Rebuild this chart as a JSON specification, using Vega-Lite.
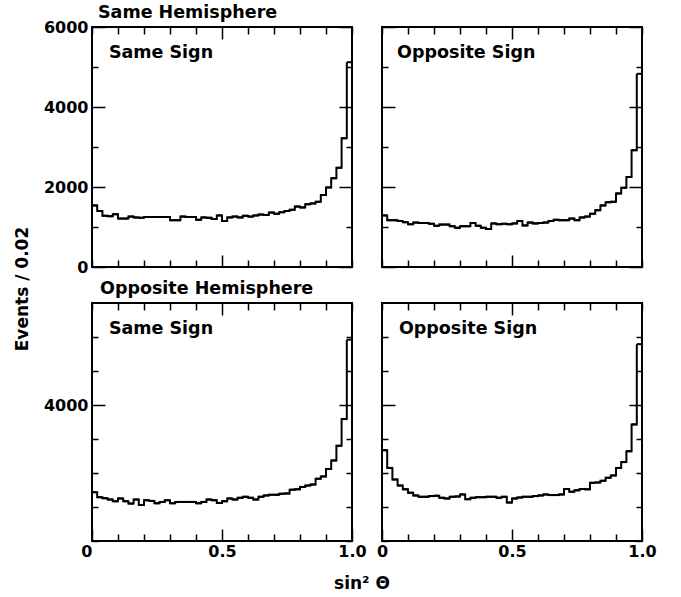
{
  "$schema": "https://vega.github.io/schema/vega-lite/v6.json",
  "background": "white",
  "padding": {"left": 12, "top": 2, "right": 10, "bottom": 2},
  "bounds": "flush",
  "columns": 2,
  "spacing": {"row": 36, "column": 30},
  "datasets": {
    "hist": [
      {"hemi":"Same","sign":"Same","lo":0,"hi":0.02,"n":1540},
      {"hemi":"Same","sign":"Same","lo":0.02,"hi":0.04,"n":1400},
      {"hemi":"Same","sign":"Same","lo":0.04,"hi":0.06,"n":1280},
      {"hemi":"Same","sign":"Same","lo":0.06,"hi":0.08,"n":1270},
      {"hemi":"Same","sign":"Same","lo":0.08,"hi":0.1,"n":1320},
      {"hemi":"Same","sign":"Same","lo":0.1,"hi":0.12,"n":1210},
      {"hemi":"Same","sign":"Same","lo":0.12,"hi":0.14,"n":1210},
      {"hemi":"Same","sign":"Same","lo":0.14,"hi":0.16,"n":1260},
      {"hemi":"Same","sign":"Same","lo":0.16,"hi":0.18,"n":1240},
      {"hemi":"Same","sign":"Same","lo":0.18,"hi":0.2,"n":1230},
      {"hemi":"Same","sign":"Same","lo":0.2,"hi":0.22,"n":1250},
      {"hemi":"Same","sign":"Same","lo":0.22,"hi":0.24,"n":1250},
      {"hemi":"Same","sign":"Same","lo":0.24,"hi":0.26,"n":1250},
      {"hemi":"Same","sign":"Same","lo":0.26,"hi":0.28,"n":1250},
      {"hemi":"Same","sign":"Same","lo":0.28,"hi":0.3,"n":1250},
      {"hemi":"Same","sign":"Same","lo":0.3,"hi":0.32,"n":1170},
      {"hemi":"Same","sign":"Same","lo":0.32,"hi":0.34,"n":1170},
      {"hemi":"Same","sign":"Same","lo":0.34,"hi":0.36,"n":1260},
      {"hemi":"Same","sign":"Same","lo":0.36,"hi":0.38,"n":1250},
      {"hemi":"Same","sign":"Same","lo":0.38,"hi":0.4,"n":1250},
      {"hemi":"Same","sign":"Same","lo":0.4,"hi":0.42,"n":1180},
      {"hemi":"Same","sign":"Same","lo":0.42,"hi":0.44,"n":1240},
      {"hemi":"Same","sign":"Same","lo":0.44,"hi":0.46,"n":1230},
      {"hemi":"Same","sign":"Same","lo":0.46,"hi":0.48,"n":1200},
      {"hemi":"Same","sign":"Same","lo":0.48,"hi":0.5,"n":1290},
      {"hemi":"Same","sign":"Same","lo":0.5,"hi":0.52,"n":1150},
      {"hemi":"Same","sign":"Same","lo":0.52,"hi":0.54,"n":1240},
      {"hemi":"Same","sign":"Same","lo":0.54,"hi":0.56,"n":1260},
      {"hemi":"Same","sign":"Same","lo":0.56,"hi":0.58,"n":1240},
      {"hemi":"Same","sign":"Same","lo":0.58,"hi":0.6,"n":1280},
      {"hemi":"Same","sign":"Same","lo":0.6,"hi":0.62,"n":1260},
      {"hemi":"Same","sign":"Same","lo":0.62,"hi":0.64,"n":1290},
      {"hemi":"Same","sign":"Same","lo":0.64,"hi":0.66,"n":1310},
      {"hemi":"Same","sign":"Same","lo":0.66,"hi":0.68,"n":1300},
      {"hemi":"Same","sign":"Same","lo":0.68,"hi":0.7,"n":1360},
      {"hemi":"Same","sign":"Same","lo":0.7,"hi":0.72,"n":1330},
      {"hemi":"Same","sign":"Same","lo":0.72,"hi":0.74,"n":1370},
      {"hemi":"Same","sign":"Same","lo":0.74,"hi":0.76,"n":1400},
      {"hemi":"Same","sign":"Same","lo":0.76,"hi":0.78,"n":1430},
      {"hemi":"Same","sign":"Same","lo":0.78,"hi":0.8,"n":1510},
      {"hemi":"Same","sign":"Same","lo":0.8,"hi":0.82,"n":1490},
      {"hemi":"Same","sign":"Same","lo":0.82,"hi":0.84,"n":1570},
      {"hemi":"Same","sign":"Same","lo":0.84,"hi":0.86,"n":1590},
      {"hemi":"Same","sign":"Same","lo":0.86,"hi":0.88,"n":1630},
      {"hemi":"Same","sign":"Same","lo":0.88,"hi":0.9,"n":1800},
      {"hemi":"Same","sign":"Same","lo":0.9,"hi":0.92,"n":1990},
      {"hemi":"Same","sign":"Same","lo":0.92,"hi":0.94,"n":2220},
      {"hemi":"Same","sign":"Same","lo":0.94,"hi":0.96,"n":2480},
      {"hemi":"Same","sign":"Same","lo":0.96,"hi":0.98,"n":3220},
      {"hemi":"Same","sign":"Same","lo":0.98,"hi":1,"n":5120},

      {"hemi":"Same","sign":"Opposite","lo":0,"hi":0.02,"n":1290},
      {"hemi":"Same","sign":"Opposite","lo":0.02,"hi":0.04,"n":1170},
      {"hemi":"Same","sign":"Opposite","lo":0.04,"hi":0.06,"n":1170},
      {"hemi":"Same","sign":"Opposite","lo":0.06,"hi":0.08,"n":1150},
      {"hemi":"Same","sign":"Opposite","lo":0.08,"hi":0.1,"n":1120},
      {"hemi":"Same","sign":"Opposite","lo":0.1,"hi":0.12,"n":1070},
      {"hemi":"Same","sign":"Opposite","lo":0.12,"hi":0.14,"n":1110},
      {"hemi":"Same","sign":"Opposite","lo":0.14,"hi":0.16,"n":1100},
      {"hemi":"Same","sign":"Opposite","lo":0.16,"hi":0.18,"n":1100},
      {"hemi":"Same","sign":"Opposite","lo":0.18,"hi":0.2,"n":1080},
      {"hemi":"Same","sign":"Opposite","lo":0.2,"hi":0.22,"n":1030},
      {"hemi":"Same","sign":"Opposite","lo":0.22,"hi":0.24,"n":1060},
      {"hemi":"Same","sign":"Opposite","lo":0.24,"hi":0.26,"n":1060},
      {"hemi":"Same","sign":"Opposite","lo":0.26,"hi":0.28,"n":1020},
      {"hemi":"Same","sign":"Opposite","lo":0.28,"hi":0.3,"n":980},
      {"hemi":"Same","sign":"Opposite","lo":0.3,"hi":0.32,"n":1020},
      {"hemi":"Same","sign":"Opposite","lo":0.32,"hi":0.34,"n":1020},
      {"hemi":"Same","sign":"Opposite","lo":0.34,"hi":0.36,"n":1100},
      {"hemi":"Same","sign":"Opposite","lo":0.36,"hi":0.38,"n":1030},
      {"hemi":"Same","sign":"Opposite","lo":0.38,"hi":0.4,"n":980},
      {"hemi":"Same","sign":"Opposite","lo":0.4,"hi":0.42,"n":950},
      {"hemi":"Same","sign":"Opposite","lo":0.42,"hi":0.44,"n":1090},
      {"hemi":"Same","sign":"Opposite","lo":0.44,"hi":0.46,"n":1070},
      {"hemi":"Same","sign":"Opposite","lo":0.46,"hi":0.48,"n":1080},
      {"hemi":"Same","sign":"Opposite","lo":0.48,"hi":0.5,"n":1070},
      {"hemi":"Same","sign":"Opposite","lo":0.5,"hi":0.52,"n":1090},
      {"hemi":"Same","sign":"Opposite","lo":0.52,"hi":0.54,"n":1150},
      {"hemi":"Same","sign":"Opposite","lo":0.54,"hi":0.56,"n":1040},
      {"hemi":"Same","sign":"Opposite","lo":0.56,"hi":0.58,"n":1110},
      {"hemi":"Same","sign":"Opposite","lo":0.58,"hi":0.6,"n":1090},
      {"hemi":"Same","sign":"Opposite","lo":0.6,"hi":0.62,"n":1100},
      {"hemi":"Same","sign":"Opposite","lo":0.62,"hi":0.64,"n":1110},
      {"hemi":"Same","sign":"Opposite","lo":0.64,"hi":0.66,"n":1150},
      {"hemi":"Same","sign":"Opposite","lo":0.66,"hi":0.68,"n":1180},
      {"hemi":"Same","sign":"Opposite","lo":0.68,"hi":0.7,"n":1170},
      {"hemi":"Same","sign":"Opposite","lo":0.7,"hi":0.72,"n":1170},
      {"hemi":"Same","sign":"Opposite","lo":0.72,"hi":0.74,"n":1210},
      {"hemi":"Same","sign":"Opposite","lo":0.74,"hi":0.76,"n":1170},
      {"hemi":"Same","sign":"Opposite","lo":0.76,"hi":0.78,"n":1240},
      {"hemi":"Same","sign":"Opposite","lo":0.78,"hi":0.8,"n":1260},
      {"hemi":"Same","sign":"Opposite","lo":0.8,"hi":0.82,"n":1330},
      {"hemi":"Same","sign":"Opposite","lo":0.82,"hi":0.84,"n":1420},
      {"hemi":"Same","sign":"Opposite","lo":0.84,"hi":0.86,"n":1540},
      {"hemi":"Same","sign":"Opposite","lo":0.86,"hi":0.88,"n":1620},
      {"hemi":"Same","sign":"Opposite","lo":0.88,"hi":0.9,"n":1630},
      {"hemi":"Same","sign":"Opposite","lo":0.9,"hi":0.92,"n":1840},
      {"hemi":"Same","sign":"Opposite","lo":0.92,"hi":0.94,"n":1980},
      {"hemi":"Same","sign":"Opposite","lo":0.94,"hi":0.96,"n":2250},
      {"hemi":"Same","sign":"Opposite","lo":0.96,"hi":0.98,"n":2920},
      {"hemi":"Same","sign":"Opposite","lo":0.98,"hi":1,"n":4830},

      {"hemi":"Opposite","sign":"Same","lo":0,"hi":0.02,"n":1435},
      {"hemi":"Opposite","sign":"Same","lo":0.02,"hi":0.04,"n":1290},
      {"hemi":"Opposite","sign":"Same","lo":0.04,"hi":0.06,"n":1260},
      {"hemi":"Opposite","sign":"Same","lo":0.06,"hi":0.08,"n":1220},
      {"hemi":"Opposite","sign":"Same","lo":0.08,"hi":0.1,"n":1170},
      {"hemi":"Opposite","sign":"Same","lo":0.1,"hi":0.12,"n":1250},
      {"hemi":"Opposite","sign":"Same","lo":0.12,"hi":0.14,"n":1170},
      {"hemi":"Opposite","sign":"Same","lo":0.14,"hi":0.16,"n":1100},
      {"hemi":"Opposite","sign":"Same","lo":0.16,"hi":0.18,"n":1220},
      {"hemi":"Opposite","sign":"Same","lo":0.18,"hi":0.2,"n":1060},
      {"hemi":"Opposite","sign":"Same","lo":0.2,"hi":0.22,"n":1200},
      {"hemi":"Opposite","sign":"Same","lo":0.22,"hi":0.24,"n":1180},
      {"hemi":"Opposite","sign":"Same","lo":0.24,"hi":0.26,"n":1110},
      {"hemi":"Opposite","sign":"Same","lo":0.26,"hi":0.28,"n":1150},
      {"hemi":"Opposite","sign":"Same","lo":0.28,"hi":0.3,"n":1200},
      {"hemi":"Opposite","sign":"Same","lo":0.3,"hi":0.32,"n":1110},
      {"hemi":"Opposite","sign":"Same","lo":0.32,"hi":0.34,"n":1150},
      {"hemi":"Opposite","sign":"Same","lo":0.34,"hi":0.36,"n":1150},
      {"hemi":"Opposite","sign":"Same","lo":0.36,"hi":0.38,"n":1150},
      {"hemi":"Opposite","sign":"Same","lo":0.38,"hi":0.4,"n":1150},
      {"hemi":"Opposite","sign":"Same","lo":0.4,"hi":0.42,"n":1110},
      {"hemi":"Opposite","sign":"Same","lo":0.42,"hi":0.44,"n":1150},
      {"hemi":"Opposite","sign":"Same","lo":0.44,"hi":0.46,"n":1220},
      {"hemi":"Opposite","sign":"Same","lo":0.46,"hi":0.48,"n":1200},
      {"hemi":"Opposite","sign":"Same","lo":0.48,"hi":0.5,"n":1120},
      {"hemi":"Opposite","sign":"Same","lo":0.5,"hi":0.52,"n":1170},
      {"hemi":"Opposite","sign":"Same","lo":0.52,"hi":0.54,"n":1250},
      {"hemi":"Opposite","sign":"Same","lo":0.54,"hi":0.56,"n":1220},
      {"hemi":"Opposite","sign":"Same","lo":0.56,"hi":0.58,"n":1270},
      {"hemi":"Opposite","sign":"Same","lo":0.58,"hi":0.6,"n":1300},
      {"hemi":"Opposite","sign":"Same","lo":0.6,"hi":0.62,"n":1270},
      {"hemi":"Opposite","sign":"Same","lo":0.62,"hi":0.64,"n":1220},
      {"hemi":"Opposite","sign":"Same","lo":0.64,"hi":0.66,"n":1300},
      {"hemi":"Opposite","sign":"Same","lo":0.66,"hi":0.68,"n":1340},
      {"hemi":"Opposite","sign":"Same","lo":0.68,"hi":0.7,"n":1360},
      {"hemi":"Opposite","sign":"Same","lo":0.7,"hi":0.72,"n":1360},
      {"hemi":"Opposite","sign":"Same","lo":0.72,"hi":0.74,"n":1390},
      {"hemi":"Opposite","sign":"Same","lo":0.74,"hi":0.76,"n":1400},
      {"hemi":"Opposite","sign":"Same","lo":0.76,"hi":0.78,"n":1510},
      {"hemi":"Opposite","sign":"Same","lo":0.78,"hi":0.8,"n":1520},
      {"hemi":"Opposite","sign":"Same","lo":0.8,"hi":0.82,"n":1590},
      {"hemi":"Opposite","sign":"Same","lo":0.82,"hi":0.84,"n":1630},
      {"hemi":"Opposite","sign":"Same","lo":0.84,"hi":0.86,"n":1660},
      {"hemi":"Opposite","sign":"Same","lo":0.86,"hi":0.88,"n":1830},
      {"hemi":"Opposite","sign":"Same","lo":0.88,"hi":0.9,"n":1900},
      {"hemi":"Opposite","sign":"Same","lo":0.9,"hi":0.92,"n":2120},
      {"hemi":"Opposite","sign":"Same","lo":0.92,"hi":0.94,"n":2370},
      {"hemi":"Opposite","sign":"Same","lo":0.94,"hi":0.96,"n":2800},
      {"hemi":"Opposite","sign":"Same","lo":0.96,"hi":0.98,"n":3585},
      {"hemi":"Opposite","sign":"Same","lo":0.98,"hi":1,"n":5920},

      {"hemi":"Opposite","sign":"Opposite","lo":0,"hi":0.02,"n":2670},
      {"hemi":"Opposite","sign":"Opposite","lo":0.02,"hi":0.04,"n":2150},
      {"hemi":"Opposite","sign":"Opposite","lo":0.04,"hi":0.06,"n":1810},
      {"hemi":"Opposite","sign":"Opposite","lo":0.06,"hi":0.08,"n":1630},
      {"hemi":"Opposite","sign":"Opposite","lo":0.08,"hi":0.1,"n":1520},
      {"hemi":"Opposite","sign":"Opposite","lo":0.1,"hi":0.12,"n":1420},
      {"hemi":"Opposite","sign":"Opposite","lo":0.12,"hi":0.14,"n":1340},
      {"hemi":"Opposite","sign":"Opposite","lo":0.14,"hi":0.16,"n":1300},
      {"hemi":"Opposite","sign":"Opposite","lo":0.16,"hi":0.18,"n":1300},
      {"hemi":"Opposite","sign":"Opposite","lo":0.18,"hi":0.2,"n":1320},
      {"hemi":"Opposite","sign":"Opposite","lo":0.2,"hi":0.22,"n":1330},
      {"hemi":"Opposite","sign":"Opposite","lo":0.22,"hi":0.24,"n":1270},
      {"hemi":"Opposite","sign":"Opposite","lo":0.24,"hi":0.26,"n":1250},
      {"hemi":"Opposite","sign":"Opposite","lo":0.26,"hi":0.28,"n":1300},
      {"hemi":"Opposite","sign":"Opposite","lo":0.28,"hi":0.3,"n":1310},
      {"hemi":"Opposite","sign":"Opposite","lo":0.3,"hi":0.32,"n":1370},
      {"hemi":"Opposite","sign":"Opposite","lo":0.32,"hi":0.34,"n":1230},
      {"hemi":"Opposite","sign":"Opposite","lo":0.34,"hi":0.36,"n":1270},
      {"hemi":"Opposite","sign":"Opposite","lo":0.36,"hi":0.38,"n":1290},
      {"hemi":"Opposite","sign":"Opposite","lo":0.38,"hi":0.4,"n":1290},
      {"hemi":"Opposite","sign":"Opposite","lo":0.4,"hi":0.42,"n":1300},
      {"hemi":"Opposite","sign":"Opposite","lo":0.42,"hi":0.44,"n":1300},
      {"hemi":"Opposite","sign":"Opposite","lo":0.44,"hi":0.46,"n":1270},
      {"hemi":"Opposite","sign":"Opposite","lo":0.46,"hi":0.48,"n":1300},
      {"hemi":"Opposite","sign":"Opposite","lo":0.48,"hi":0.5,"n":1130},
      {"hemi":"Opposite","sign":"Opposite","lo":0.5,"hi":0.52,"n":1250},
      {"hemi":"Opposite","sign":"Opposite","lo":0.52,"hi":0.54,"n":1280},
      {"hemi":"Opposite","sign":"Opposite","lo":0.54,"hi":0.56,"n":1300},
      {"hemi":"Opposite","sign":"Opposite","lo":0.56,"hi":0.58,"n":1300},
      {"hemi":"Opposite","sign":"Opposite","lo":0.58,"hi":0.6,"n":1320},
      {"hemi":"Opposite","sign":"Opposite","lo":0.6,"hi":0.62,"n":1340},
      {"hemi":"Opposite","sign":"Opposite","lo":0.62,"hi":0.64,"n":1370},
      {"hemi":"Opposite","sign":"Opposite","lo":0.64,"hi":0.66,"n":1350},
      {"hemi":"Opposite","sign":"Opposite","lo":0.66,"hi":0.68,"n":1350},
      {"hemi":"Opposite","sign":"Opposite","lo":0.68,"hi":0.7,"n":1370},
      {"hemi":"Opposite","sign":"Opposite","lo":0.7,"hi":0.72,"n":1530},
      {"hemi":"Opposite","sign":"Opposite","lo":0.72,"hi":0.74,"n":1450},
      {"hemi":"Opposite","sign":"Opposite","lo":0.74,"hi":0.76,"n":1490},
      {"hemi":"Opposite","sign":"Opposite","lo":0.76,"hi":0.78,"n":1530},
      {"hemi":"Opposite","sign":"Opposite","lo":0.78,"hi":0.8,"n":1520},
      {"hemi":"Opposite","sign":"Opposite","lo":0.8,"hi":0.82,"n":1710},
      {"hemi":"Opposite","sign":"Opposite","lo":0.82,"hi":0.84,"n":1720},
      {"hemi":"Opposite","sign":"Opposite","lo":0.84,"hi":0.86,"n":1770},
      {"hemi":"Opposite","sign":"Opposite","lo":0.86,"hi":0.88,"n":1860},
      {"hemi":"Opposite","sign":"Opposite","lo":0.88,"hi":0.9,"n":1930},
      {"hemi":"Opposite","sign":"Opposite","lo":0.9,"hi":0.92,"n":2150},
      {"hemi":"Opposite","sign":"Opposite","lo":0.92,"hi":0.94,"n":2320},
      {"hemi":"Opposite","sign":"Opposite","lo":0.94,"hi":0.96,"n":2640},
      {"hemi":"Opposite","sign":"Opposite","lo":0.96,"hi":0.98,"n":3430},
      {"hemi":"Opposite","sign":"Opposite","lo":0.98,"hi":1,"n":5790}
    ]
  },
  "concat": [
    {
      "width": 260,
      "height": 240,
      "title": {"text": "Same Hemisphere", "dx": 6, "offset": -2},
      "data": {"name": "hist"},
      "layer": [
        {
          "transform": [{"filter": "datum.hemi === 'Same' && datum.sign === 'Same'"}],
          "mark": {"type": "line", "interpolate": "step-after", "color": "black", "strokeWidth": 2},
          "encoding": {
            "x": {"field": "lo", "type": "quantitative", "scale": {"domain": [0, 1], "nice": false},
              "axis": {"orient": "bottom", "values": [0, 0.1, 0.2, 0.3, 0.4, 0.5, 0.6, 0.7, 0.8, 0.9, 1], "labels": false, "title": null,
                "tickSize": {"condition": {"test": "datum.value === 0.5", "value": -12}, "value": -7}}},
            "y": {"field": "n", "type": "quantitative", "scale": {"domain": [0, 6000], "nice": false},
              "axis": {"orient": "left", "values": [0, 1000, 2000, 3000, 4000, 5000, 6000], "format": "d",
                "labelExpr": "datum.value % 2000 === 0 ? datum.label : ''",
                "tickSize": {"condition": {"test": "datum.value % 2000 === 0", "value": -13}, "value": -6},
                "labelPadding": 17,
                "title": "Events / 0.02", "titleAngle": 270, "titleAlign": "center", "titleBaseline": "alphabetic",
                "titleX": -64.5, "titleY": 261.5}}
          }
        },
        {
          "transform": [{"filter": "datum.hemi === 'Same' && datum.sign === 'Same'"}],
          "mark": {"type": "rule", "color": "black", "strokeWidth": 2},
          "encoding": {
            "x": {"field": "lo", "type": "quantitative",
              "axis": {"orient": "top", "values": [0, 0.1, 0.2, 0.3, 0.4, 0.5, 0.6, 0.7, 0.8, 0.9, 1], "labels": false, "title": null,
                "tickSize": {"condition": {"test": "datum.value === 0.5", "value": -12}, "value": -7}}},
            "x2": {"field": "hi"},
            "y": {"field": "n", "type": "quantitative",
              "axis": {"orient": "right", "values": [0, 1000, 2000, 3000, 4000, 5000, 6000], "labels": false, "title": null,
                "tickSize": {"condition": {"test": "datum.value % 2000 === 0", "value": -13}, "value": -6}}}
          }
        },
        {
          "data": {"values": [{"label": "Same Sign"}]},
          "mark": {"type": "text", "align": "left", "baseline": "alphabetic", "font": "DejaVu Sans", "fontSize": 17.5, "fontWeight": "bold", "color": "black"},
          "encoding": {
            "x": {"datum": 0.065, "type": "quantitative", "axis": null},
            "y": {"datum": 5225, "type": "quantitative", "axis": null},
            "text": {"field": "label"}
          }
        }
      ],
      "resolve": {"axis": {"x": "independent", "y": "independent"}}
    },
    {
      "width": 260,
      "height": 240,
      "data": {"name": "hist"},
      "layer": [
        {
          "transform": [{"filter": "datum.hemi === 'Same' && datum.sign === 'Opposite'"}],
          "mark": {"type": "line", "interpolate": "step-after", "color": "black", "strokeWidth": 2},
          "encoding": {
            "x": {"field": "lo", "type": "quantitative", "scale": {"domain": [0, 1], "nice": false},
              "axis": {"orient": "bottom", "values": [0, 0.1, 0.2, 0.3, 0.4, 0.5, 0.6, 0.7, 0.8, 0.9, 1], "labels": false, "title": null,
                "tickSize": {"condition": {"test": "datum.value === 0.5", "value": -12}, "value": -7}}},
            "y": {"field": "n", "type": "quantitative", "scale": {"domain": [0, 6000], "nice": false},
              "axis": {"orient": "left", "values": [0, 1000, 2000, 3000, 4000, 5000, 6000], "labels": false, "title": null,
                "tickSize": {"condition": {"test": "datum.value % 2000 === 0", "value": -13}, "value": -6}}}
          }
        },
        {
          "transform": [{"filter": "datum.hemi === 'Same' && datum.sign === 'Opposite'"}],
          "mark": {"type": "rule", "color": "black", "strokeWidth": 2},
          "encoding": {
            "x": {"field": "lo", "type": "quantitative",
              "axis": {"orient": "top", "values": [0, 0.1, 0.2, 0.3, 0.4, 0.5, 0.6, 0.7, 0.8, 0.9, 1], "labels": false, "title": null,
                "tickSize": {"condition": {"test": "datum.value === 0.5", "value": -12}, "value": -7}}},
            "x2": {"field": "hi"},
            "y": {"field": "n", "type": "quantitative",
              "axis": {"orient": "right", "values": [0, 1000, 2000, 3000, 4000, 5000, 6000], "labels": false, "title": null,
                "tickSize": {"condition": {"test": "datum.value % 2000 === 0", "value": -13}, "value": -6}}}
          }
        },
        {
          "data": {"values": [{"label": "Opposite Sign"}]},
          "mark": {"type": "text", "align": "left", "baseline": "alphabetic", "font": "DejaVu Sans", "fontSize": 17.5, "fontWeight": "bold", "color": "black"},
          "encoding": {
            "x": {"datum": 0.058, "type": "quantitative", "axis": null},
            "y": {"datum": 5225, "type": "quantitative", "axis": null},
            "text": {"field": "label"}
          }
        }
      ],
      "resolve": {"axis": {"x": "independent", "y": "independent"}}
    },
    {
      "width": 260,
      "height": 238,
      "title": {"text": "Opposite Hemisphere", "dx": 8, "offset": 5},
      "data": {"name": "hist"},
      "layer": [
        {
          "transform": [{"filter": "datum.hemi === 'Opposite' && datum.sign === 'Same'"}],
          "mark": {"type": "line", "interpolate": "step-after", "color": "black", "strokeWidth": 2},
          "encoding": {
            "x": {"field": "lo", "type": "quantitative", "scale": {"domain": [0, 1], "nice": false},
              "axis": {"orient": "bottom", "values": [0, 0.1, 0.2, 0.3, 0.4, 0.5, 0.6, 0.7, 0.8, 0.9, 1],
                "labelExpr": "datum.value === 0 ? '0' : (datum.value === 0.5 ? '0.5' : (datum.value === 1 ? '1.0' : ''))",
                "labelAlign": {"condition": {"test": "datum.value === 0", "value": "right"}, "value": "center"},
                "tickSize": {"condition": {"test": "datum.value === 0 || datum.value === 0.5 || datum.value === 1", "value": -12}, "value": -7},
                "labelPadding": 14,
                "title": "sin² Θ", "titleAngle": 0, "titleAlign": "center", "titleBaseline": "alphabetic",
                "titleX": 269.5, "titleY": 47}},
            "y": {"field": "n", "type": "quantitative", "scale": {"domain": [0, 7000], "nice": false},
              "axis": {"orient": "left", "values": [0, 1000, 2000, 3000, 4000, 5000, 6000], "format": "d",
                "labelExpr": "datum.value === 4000 ? datum.label : ''",
                "tickSize": {"condition": {"test": "datum.value === 4000", "value": -13}, "value": -6},
                "labelPadding": 17, "title": null}}
          }
        },
        {
          "transform": [{"filter": "datum.hemi === 'Opposite' && datum.sign === 'Same'"}],
          "mark": {"type": "rule", "color": "black", "strokeWidth": 2},
          "encoding": {
            "x": {"field": "lo", "type": "quantitative",
              "axis": {"orient": "top", "values": [0, 0.1, 0.2, 0.3, 0.4, 0.5, 0.6, 0.7, 0.8, 0.9, 1], "labels": false, "title": null,
                "tickSize": {"condition": {"test": "datum.value === 0.5", "value": -12}, "value": -7}}},
            "x2": {"field": "hi"},
            "y": {"field": "n", "type": "quantitative",
              "axis": {"orient": "right", "values": [0, 1000, 2000, 3000, 4000, 5000, 6000], "labels": false, "title": null,
                "tickSize": {"condition": {"test": "datum.value === 4000", "value": -13}, "value": -6}}}
          }
        },
        {
          "data": {"values": [{"label": "Same Sign"}]},
          "mark": {"type": "text", "align": "left", "baseline": "alphabetic", "font": "DejaVu Sans", "fontSize": 17.5, "fontWeight": "bold", "color": "black"},
          "encoding": {
            "x": {"datum": 0.065, "type": "quantitative", "axis": null},
            "y": {"datum": 6100, "type": "quantitative", "axis": null},
            "text": {"field": "label"}
          }
        }
      ],
      "resolve": {"axis": {"x": "independent", "y": "independent"}}
    },
    {
      "width": 260,
      "height": 238,
      "data": {"name": "hist"},
      "layer": [
        {
          "transform": [{"filter": "datum.hemi === 'Opposite' && datum.sign === 'Opposite'"}],
          "mark": {"type": "line", "interpolate": "step-after", "color": "black", "strokeWidth": 2},
          "encoding": {
            "x": {"field": "lo", "type": "quantitative", "scale": {"domain": [0, 1], "nice": false},
              "axis": {"orient": "bottom", "values": [0, 0.1, 0.2, 0.3, 0.4, 0.5, 0.6, 0.7, 0.8, 0.9, 1],
                "labelExpr": "datum.value === 0 ? '0' : (datum.value === 0.5 ? '0.5' : (datum.value === 1 ? '1.0' : ''))",
                "tickSize": {"condition": {"test": "datum.value === 0 || datum.value === 0.5 || datum.value === 1", "value": -12}, "value": -7},
                "labelPadding": 14, "title": null}},
            "y": {"field": "n", "type": "quantitative", "scale": {"domain": [0, 7000], "nice": false},
              "axis": {"orient": "left", "values": [0, 1000, 2000, 3000, 4000, 5000, 6000], "labels": false, "title": null,
                "tickSize": {"condition": {"test": "datum.value === 4000", "value": -13}, "value": -6}}}
          }
        },
        {
          "transform": [{"filter": "datum.hemi === 'Opposite' && datum.sign === 'Opposite'"}],
          "mark": {"type": "rule", "color": "black", "strokeWidth": 2},
          "encoding": {
            "x": {"field": "lo", "type": "quantitative",
              "axis": {"orient": "top", "values": [0, 0.1, 0.2, 0.3, 0.4, 0.5, 0.6, 0.7, 0.8, 0.9, 1], "labels": false, "title": null,
                "tickSize": {"condition": {"test": "datum.value === 0.5", "value": -12}, "value": -7}}},
            "x2": {"field": "hi"},
            "y": {"field": "n", "type": "quantitative",
              "axis": {"orient": "right", "values": [0, 1000, 2000, 3000, 4000, 5000, 6000], "labels": false, "title": null,
                "tickSize": {"condition": {"test": "datum.value === 4000", "value": -13}, "value": -6}}}
          }
        },
        {
          "data": {"values": [{"label": "Opposite Sign"}]},
          "mark": {"type": "text", "align": "left", "baseline": "alphabetic", "font": "DejaVu Sans", "fontSize": 17.5, "fontWeight": "bold", "color": "black"},
          "encoding": {
            "x": {"datum": 0.065, "type": "quantitative", "axis": null},
            "y": {"datum": 6100, "type": "quantitative", "axis": null},
            "text": {"field": "label"}
          }
        }
      ],
      "resolve": {"axis": {"x": "independent", "y": "independent"}}
    }
  ],
  "config": {
    "view": {"stroke": "black", "strokeWidth": 2},
    "font": "DejaVu Sans",
    "axis": {
      "domain": false,
      "grid": false,
      "tickColor": "black",
      "tickWidth": 1.5,
      "labelFont": "DejaVu Sans",
      "labelFontSize": 16,
      "labelFontWeight": "bold",
      "labelColor": "black",
      "labelFlush": false,
      "labelOverlap": false,
      "titleFont": "DejaVu Sans",
      "titleFontSize": 17,
      "titleFontWeight": "bold",
      "titleColor": "black"
    },
    "title": {
      "font": "DejaVu Sans",
      "fontSize": 17.5,
      "fontWeight": "bold",
      "color": "black",
      "anchor": "start",
      "frame": "group"
    }
  }
}
